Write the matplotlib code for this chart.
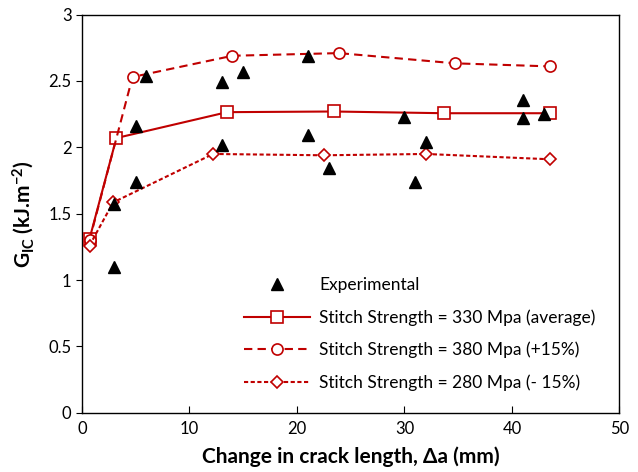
import matplotlib
matplotlib.use("Agg")
import matplotlib.pyplot as plt

plt.rcParams['font.family'] = ['Lato', 'DejaVu Sans']
plt.rcParams['mathtext.fontset'] = 'custom'
plt.rcParams['mathtext.rm'] = 'Lato:bold'
plt.rcParams['mathtext.bf'] = 'Lato:bold'
plt.rcParams['mathtext.it'] = 'Lato:bold'

# Experimental data
exp_x = [3, 3, 5, 5, 6, 13, 13, 15, 21, 21, 23, 30, 31, 32, 41, 41, 43]
exp_y = [1.10, 1.57, 1.74, 2.16, 2.54, 2.02, 2.49, 2.565, 2.09, 2.69, 1.845, 2.23, 1.74, 2.04, 2.22, 2.355, 2.25]

# Stitch strength = 330 MPa (average)
avg_x = [0.7, 3.2, 13.5, 23.4, 33.7, 43.5]
avg_y = [1.31, 2.07, 2.265, 2.27, 2.257, 2.257]

# Stitch strength = 380 MPa (+15%)
hi_x = [0.7, 4.7, 14.0, 23.9, 34.7, 43.5]
hi_y = [1.30, 2.53, 2.69, 2.71, 2.633, 2.61]

# Stitch strength = 280 MPa (-15%)
lo_x = [0.7, 2.9, 12.2, 22.5, 32.0, 43.5]
lo_y = [1.26, 1.585, 1.95, 1.94, 1.95, 1.91]

labels = ['Experimental',
          'Stitch Strength = 330 Mpa (average)',
          'Stitch Strength = 380 Mpa (+15%)',
          'Stitch Strength = 280 Mpa (- 15%)']

red = '#C00000'

fig = plt.figure(figsize=(6.38, 4.72), dpi=100)
ax = fig.add_axes([0.1285, 0.1256, 0.971 - 0.1285, 0.969 - 0.1256])

ax.plot(exp_x, exp_y, linestyle='none', marker='^', color='black',
        markersize=8, label=labels[0], zorder=4)
ax.plot(avg_x, avg_y, '-', color=red, lw=1.5, marker='s', markersize=8,
        markerfacecolor='white', markeredgecolor=red, markeredgewidth=1.2,
        label=labels[1], zorder=3)
ax.plot(hi_x, hi_y, color=red, lw=1.5, dashes=(4, 2.5), marker='o', markersize=8,
        markerfacecolor='white', markeredgecolor=red, markeredgewidth=1.2,
        label=labels[2], zorder=3)
ax.plot(lo_x, lo_y, color=red, lw=1.5, dashes=(2, 1.2), marker='D', markersize=6,
        markerfacecolor='white', markeredgecolor=red, markeredgewidth=1.2,
        label=labels[3], zorder=3)

ax.set_xlim(0, 50)
ax.set_ylim(0, 3)
ax.set_xticks([0, 10, 20, 30, 40, 50])
ax.set_yticks([0, 0.5, 1, 1.5, 2, 2.5, 3])
ax.set_yticklabels(['0', '0.5', '1', '1.5', '2', '2.5', '3'])
ax.tick_params(axis='x', direction='in', length=5, labelsize=12, pad=6)
ax.tick_params(axis='y', direction='out', length=4, labelsize=12)
for s in ax.spines.values():
    s.set_linewidth(1.0)

ax.set_xlabel('Change in crack length, \u0394a (mm)', fontsize=15, fontweight='bold', labelpad=7)
ax.set_ylabel(r'G$_{\mathrm{IC}}$ (kJ.m$^{\mathrm{-2}}$)', fontsize=15, fontweight='bold', labelpad=9)

leg = ax.legend(loc='upper left', bbox_to_anchor=(0.289, 0.358), frameon=False,
                fontsize=12.5, numpoints=1, handlelength=3.8, labelspacing=0.92,
                handletextpad=0.52, borderaxespad=0)

fig.savefig('out.png', dpi=100)
